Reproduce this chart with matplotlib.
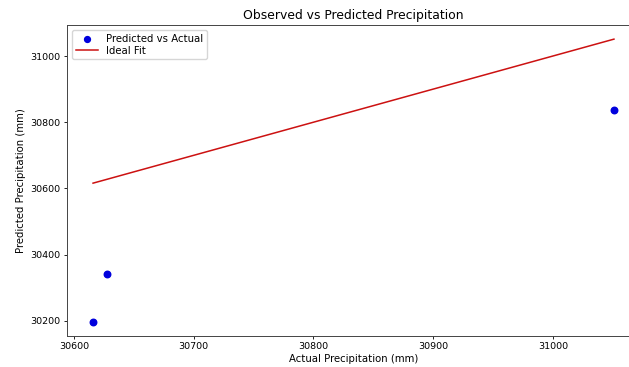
import numpy as np
import matplotlib
matplotlib.use("Agg")
import matplotlib.pyplot as plt

actual = np.array([30616, 30628, 31051])
predicted = np.array([30197, 30341, 30837])

fig = plt.figure(figsize=(6.29, 3.67), dpi=100)
# right edge of the original figure was cropped off
ax = fig.add_axes([67 / 629, 31 / 367, 573 / 629, 311 / 367])

ax.scatter(actual, predicted, color="#0000dd", s=22, label="Predicted vs Actual")
ax.plot([actual.min(), actual.max()], [actual.min(), actual.max()],
        color="#cc1111", linewidth=1.1, label="Ideal Fit")

ax.set_title("Observed vs Predicted Precipitation", fontsize=8.9, pad=4)
ax.set_xlabel("Actual Precipitation (mm)", fontsize=7.3, labelpad=2)
ax.set_ylabel("Predicted Precipitation (mm)", fontsize=7.3, labelpad=3)
ax.set_xticks([30600, 30700, 30800, 30900, 31000])
ax.set_yticks([30200, 30400, 30600, 30800, 31000])
ax.tick_params(labelsize=6.8, width=0.6, length=2.5, pad=2)
for s in ax.spines.values():
    s.set_linewidth(0.7)
    s.set_color("#444444")
ax.legend(loc="upper left", fontsize=7.3, handlelength=2.2, borderpad=0.35,
          labelspacing=0.2, handletextpad=0.8, markerscale=0.9)

fig.savefig("out.png", dpi=100)
